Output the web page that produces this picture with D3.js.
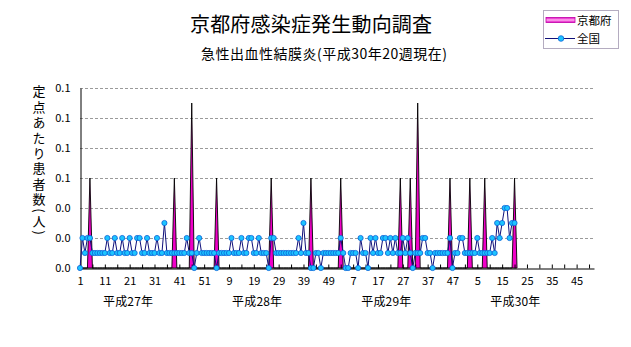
<!DOCTYPE html>
<html><head><meta charset="utf-8">
<script src="https://cdn.jsdelivr.net/npm/d3@7"></script>
<style>
html,body{margin:0;padding:0;background:#fff;}
svg{display:block;}
text{font-family:"Noto Sans CJK JP","Noto Sans",sans-serif;fill:#000;}
</style></head><body>
<svg id="chart" width="631" height="347"></svg>
<script>
// ---------- data ----------
const titleText = "京都府感染症発生動向調査";
const subtitleText = "急性出血性結膜炎(平成30年20週現在)";
const yAxisTitle = "定点あたり患者数(人)";
const seriesNames = ["京都府", "全国"];
const yearLabels = ["平成27年", "平成28年", "平成29年", "平成30年"];
const weeksPerYear = [52, 52, 52, 52];
const yTickValues = [0, 0.02, 0.04, 0.06, 0.08, 0.10, 0.12];

// 京都府 (per-sentinel), by year
const kyoto2015 = [0,0,0,0,0.06,0,0,0,0,0, 0,0,0,0,0,0,0,0,0,0, 0,0,0,0,0,0,0,0,0,0, 0,0,0,0,0,0,0,0,0.06,0, 0,0,0,0,0,0.11,0,0,0,0, 0,0];
const kyoto2016 = [0,0,0,0.06,0,0,0,0,0,0, 0,0,0,0,0,0,0,0,0,0, 0,0,0,0,0,0.06,0,0,0,0, 0,0,0,0,0,0,0,0,0,0, 0,0.06,0,0,0,0,0,0,0,0, 0,0];
const kyoto2017 = [0,0.06,0,0,0,0,0,0,0,0, 0,0,0,0,0,0,0,0,0,0, 0,0,0,0,0,0.06,0,0,0,0.06, 0,0,0.11,0,0,0,0,0,0,0, 0,0,0,0,0,0.06,0,0,0,0, 0,0];
const kyoto2018 = [0,0.06,0,0,0,0,0,0.06,0,0, 0,0,0,0,0,0,0,0,0,0.06];

// 全国 (per-sentinel), by year
const zenkoku2015 = [0,.02,.01,.02,.02,.01,.01,.01,.01,.01, .01,.02,.01,.01,.02,.01,.01,.02,.01,.01, .02,.01,.01,.02,.02,.01,.01,.02,.01,.01, .01,.02,.01,.01,.03,.01,.01,.01,.01,.01, .01,.01,.01,.02,.01,.01,0,.01,.02,.01, .01,.01];
const zenkoku2016 = [.01,.01,.01,0,.01,.01,.01,.01,.01,.02, .01,.01,.01,.02,.01,.01,.02,.02,.01,.01, .02,.01,.01,.01,0,.02,.02,.01,.01,.01, .01,.01,.01,.01,.01,.01,.02,.01,.03,.01, .01,0,0,.01,.01,0,.01,.01,.01,.01, .01,.01];
const zenkoku2017 = [.01,.02,.01,0,0,.01,.01,.01,0,.02, .01,.01,0,.02,.01,.02,.01,.01,.02,.02, .01,.02,.01,.02,.01,.01,.02,.01,.02,.01, 0,.01,.01,.01,.02,.02,.01,.01,0,.01, .01,.01,.01,.01,.01,.02,0,.01,.01,.02, .02,.01];
const zenkoku2018 = [.01,.01,.01,.01,.02,.01,.01,.01,.01,.01, .02,.01,.03,.02,.03,.04,.04,.02,.03,.03];

// ---------- build ----------
(function draw() {
const categories = [];
const yearStarts = [];
weeksPerYear.forEach((n, yi) => {
  yearStarts.push(categories.length);
  for (let w = 1; w <= n; w++) categories.push({year: yi, week: w});
});
const kyoto = [].concat(kyoto2015, kyoto2016, kyoto2017, kyoto2018);
const zenkoku = [].concat(zenkoku2015, zenkoku2016, zenkoku2017, zenkoku2018);

const svg = d3.select("#chart");
const defs = svg.append("defs");
const lg = defs.append("linearGradient").attr("id", "pinkGrad").attr("x1", 0).attr("y1", 0).attr("x2", 0).attr("y2", 1);
lg.append("stop").attr("offset", "0%").attr("stop-color", "#e000c0");
lg.append("stop").attr("offset", "50%").attr("stop-color", "#ffb0f0");
lg.append("stop").attr("offset", "100%").attr("stop-color", "#e000c0");

const pLeft = 80, pRight = 594, pTop = 88, pBottom = 268;
const x = d3.scalePoint().domain(d3.range(categories.length)).range([pLeft, pRight]);
const y = d3.scaleLinear().domain([0, 0.12]).range([pBottom, pTop]);

// gridlines
svg.append("g").selectAll("line").data(yTickValues.filter(v => v > 0)).join("line")
  .attr("x1", pLeft).attr("x2", pRight + 1)
  .attr("y1", d => Math.round(y(d)) + 0.5).attr("y2", d => Math.round(y(d)) + 0.5)
  .attr("stroke", "#9a9a9a").attr("stroke-width", 1).attr("stroke-dasharray", "3,2");

// Kyoto area
const areaPts = kyoto.map((v, i) => ({i, v}));
areaPts.push({i: kyoto.length, v: 0});
const area = d3.area().x(d => x(d.i)).y0(y(0)).y1(d => y(d.v));
svg.append("path").datum(areaPts).attr("d", area)
  .attr("fill", "#f000c8").attr("stroke", "#000").attr("stroke-width", 0.9).attr("stroke-linejoin", "miter");

// axes
const yAxis = d3.axisLeft(y).tickValues(yTickValues).tickFormat(d3.format(".1f")).tickSize(0).tickPadding(10);
const gy = svg.append("g").attr("transform", `translate(${pLeft + 0.5},0)`).call(yAxis);
gy.select(".domain").attr("stroke", "#000");
gy.selectAll("text").attr("font-size", 11).attr("font-family", "'Noto Sans CJK JP', sans-serif");

const xAxis = d3.axisBottom(x)
  .tickValues(d3.range(0, categories.length, 5))
  .tickSize(-4).tickSizeOuter(0)
  .tickFormat(i => i % 10 === 0 ? categories[i].week : "");
const gx = svg.append("g").attr("transform", `translate(0,${pBottom + 0.5})`).call(xAxis);
gx.select(".domain").attr("stroke", "#000");
gx.selectAll(".tick line").attr("stroke", "#000");
gx.selectAll("text").attr("font-size", 11).attr("y", 9).attr("font-family", "'Noto Sans CJK JP', sans-serif");

// national line
const line = d3.line().x((d, i) => x(i)).y(d => y(d));
svg.append("path").datum(zenkoku).attr("d", line)
  .attr("fill", "none").attr("stroke", "#10107a").attr("stroke-width", 1);
svg.append("g").selectAll("circle").data(zenkoku).join("circle")
  .attr("cx", (d, i) => x(i)).attr("cy", d => y(d)).attr("r", 2.6)
  .attr("fill", "#1cc4ff").attr("stroke", "#0a62d8").attr("stroke-width", 0.8);

// year labels
svg.append("g").selectAll("text").data(yearLabels).join("text")
  .attr("x", (d, i) => x(yearStarts[i]) + 48).attr("y", 306)
  .attr("text-anchor", "middle").attr("font-size", 12)
  .attr("textLength", 50).attr("lengthAdjust", "spacing")
  .text(d => d);

// title & subtitle
svg.append("text").attr("x", 311).attr("y", 32).attr("text-anchor", "middle")
  .attr("font-size", 20).attr("textLength", 242).attr("lengthAdjust", "spacing").text(titleText);
svg.append("text").attr("x", 324).attr("y", 59).attr("text-anchor", "middle")
  .attr("font-size", 14).attr("textLength", 246).attr("lengthAdjust", "spacing").text(subtitleText);

// y axis title (vertical writing)
svg.append("text").attr("x", 39).attr("y", 85)
  .attr("font-size", 13)
  .style("writing-mode", "vertical-rl")
  .style("letter-spacing", "2.4px")
  .text(yAxisTitle);

// legend
const leg = svg.append("g");
leg.append("rect").attr("x", 543.5).attr("y", 10.5).attr("width", 75).attr("height", 38)
  .attr("fill", "#fff").attr("stroke", "#b4acc0").attr("stroke-width", 1);
leg.append("rect").attr("x", 546).attr("y", 17.5).attr("width", 29).attr("height", 5)
  .attr("fill", "url(#pinkGrad)").attr("stroke", "#c000a8").attr("stroke-width", 0.8);
leg.append("text").attr("x", 577).attr("y", 24.5).attr("font-size", 11.5).text(seriesNames[0]);
leg.append("line").attr("x1", 545).attr("x2", 575).attr("y1", 38.5).attr("y2", 38.5)
  .attr("stroke", "#10107a").attr("stroke-width", 1);
leg.append("circle").attr("cx", 561).attr("cy", 38.5).attr("r", 2.8)
  .attr("fill", "#1cc4ff").attr("stroke", "#0a62d8").attr("stroke-width", 0.8);
leg.append("text").attr("x", 577).attr("y", 43).attr("font-size", 11.5).text(seriesNames[1]);
})();
</script>
</body></html>
